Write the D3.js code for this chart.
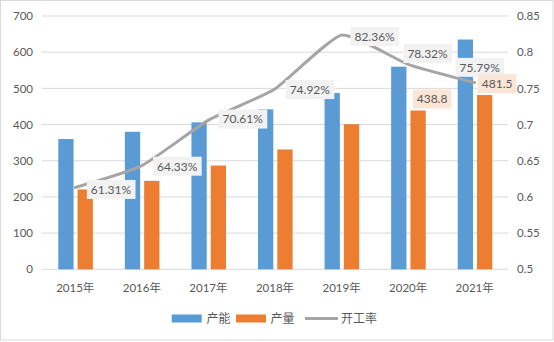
<!DOCTYPE html>
<html><head><meta charset="utf-8">
<script src="https://cdn.jsdelivr.net/npm/d3@7/dist/d3.min.js"></script>
<style>
body{margin:0;background:#fff;}
svg{display:block;}
text{font-family:Lato,"Noto Sans CJK SC",sans-serif;fill:#595959;}
</style></head>
<body>
<svg id="c" width="554" height="342"></svg>
<script>
const years = ["2015年","2016年","2017年","2018年","2019年","2020年","2021年"];
const capacity = [360, 380, 406, 442, 487, 560, 635];
const output = [220.7, 244.5, 286.7, 331.1, 401.1, 438.8, 481.5];
const rate = [0.6131, 0.6433, 0.7061, 0.7492, 0.8236, 0.7832, 0.7579];
const leftTicks = [0,100,200,300,400,500,600,700];
const rightTicks = [0.5,0.55,0.6,0.65,0.7,0.75,0.8,0.85];
const seriesNames = ["产能","产量","开工率"];
const outputLabelIdx = [5,6];

(function(){
const svg = d3.select("#c");
const W=554,H=342;
const pL=42,pR=508,pT=16,pB=269.3;
const colors={cap:"#5B9BD5",out:"#ED7D31",rate:"#A5A5A5"};

svg.append("rect").attr("x",0.5).attr("y",0.5).attr("width",W-1.5).attr("height",H-2.5)
  .attr("fill","#fff").attr("stroke","#D9D9D9").attr("stroke-width",1);

const x = d3.scaleBand().domain(years).range([pL,pR]).padding(0);
const yL = d3.scaleLinear().domain([0,700]).range([pB,pT]);
const yR = d3.scaleLinear().domain([0.5,0.85]).range([pB,pT]);

svg.append("g").selectAll("line").data(leftTicks).join("line")
  .attr("x1",pL).attr("x2",pR).attr("y1",d=>yL(d)).attr("y2",d=>yL(d))
  .attr("stroke","#D9D9D9").attr("stroke-width",1);

svg.append("g").selectAll("text").data(leftTicks).join("text")
  .attr("x",33).attr("y",d=>yL(d)).attr("dy","0.36em").attr("text-anchor","end")
  .attr("font-size","11.5px").text(d=>d);
svg.append("g").selectAll("text").data(rightTicks).join("text")
  .attr("x",517).attr("y",d=>yR(d)).attr("dy","0.36em").attr("text-anchor","start")
  .attr("font-size","11.5px").text(d=>d3.format("~g")(d));
svg.append("g").selectAll("text").data(years).join("text")
  .attr("x",d=>x(d)+x.bandwidth()/2).attr("y",291.5).attr("text-anchor","middle")
  .attr("font-size","11.5px").text(d=>d);

const barW=15.3, gap=4;
const cx = d=>x(d)+x.bandwidth()/2+0.3;
svg.append("g").selectAll("rect").data(years).join("rect")
  .attr("x",d=>cx(d)-gap/2-barW).attr("width",barW)
  .attr("y",(d,i)=>yL(capacity[i])).attr("height",(d,i)=>yL(0)-yL(capacity[i]))
  .attr("fill",colors.cap);
svg.append("g").selectAll("rect").data(years).join("rect")
  .attr("x",d=>cx(d)+gap/2).attr("width",barW)
  .attr("y",(d,i)=>yL(output[i])).attr("height",(d,i)=>yL(0)-yL(output[i]))
  .attr("fill",colors.out);

const line = d3.line().x((d,i)=>x(years[i])+x.bandwidth()/2).y(d=>yR(d)).curve(d3.curveCardinal.tension(0.5));
svg.append("path").datum(rate).attr("d",line).attr("fill","none")
  .attr("stroke",colors.rate).attr("stroke-width",3).attr("stroke-linecap","round").attr("stroke-linejoin","round");

function label(g, tx, ty, str, bg){
  const t = g.append("text").attr("x",tx).attr("y",ty).attr("dy","0.36em")
    .attr("text-anchor","middle").attr("font-size","12px").text(str);
  const bb = t.node().getBBox();
  g.insert("rect","text").attr("x",bb.x-4).attr("y",ty-9.5).attr("width",bb.width+8).attr("height",19)
    .attr("fill",bg);
}
const rateOffsets=[[35.7,2],[35.3,0.6],[34.3,-1.1],[34.8,0.6],[33,1.4],[19.4,-10.8],[5,-15.3]];
const lg = svg.append("g");
rate.forEach((r,i)=>{
  const g = lg.append("g");
  label(g, x(years[i])+x.bandwidth()/2+rateOffsets[i][0], yR(r)+rateOffsets[i][1], (r*100).toFixed(2)+"%", "#F2F2F2");
});
const outOffsets={5:[14,-11.5],6:[12.5,-11.5]};
outputLabelIdx.forEach(i=>{
  const g = lg.append("g");
  label(g, cx(years[i])+gap/2+barW/2+outOffsets[i][0], yL(output[i])+outOffsets[i][1], output[i].toFixed(1), "#FBE5D6");
});

const leg = svg.append("g");
leg.append("rect").attr("x",171.7).attr("y",314.5).attr("width",30).attr("height",8).attr("fill",colors.cap);
leg.append("text").attr("x",206.5).attr("y",318.5).attr("dy","0.36em").attr("font-size","12px").text(seriesNames[0]);
leg.append("rect").attr("x",236).attr("y",314.5).attr("width",30).attr("height",8).attr("fill",colors.out);
leg.append("text").attr("x",270.5).attr("y",318.5).attr("dy","0.36em").attr("font-size","12px").text(seriesNames[1]);
leg.append("line").attr("x1",305).attr("x2",338).attr("y1",318.5).attr("y2",318.5).attr("stroke",colors.rate).attr("stroke-width",3);
leg.append("text").attr("x",341).attr("y",318.5).attr("dy","0.36em").attr("font-size","12px").text(seriesNames[2]);
})();
</script>
</body></html>
